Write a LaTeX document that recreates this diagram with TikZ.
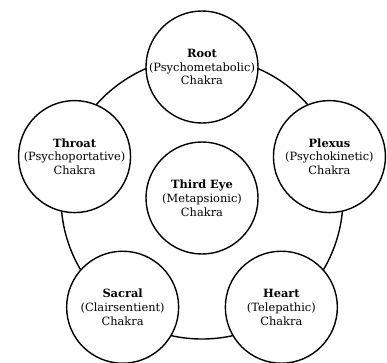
\documentclass[tikz,border=0pt]{standalone}
\usepackage{fontspec}
\setmainfont{DejaVu Serif}
\begin{document}
\begin{tikzpicture}[x=1pt,y=1pt,
  chakra/.style={circle,draw,line width=1.4pt,fill=white,minimum size=112pt,inner sep=0pt,align=center,font=\fontsize{11.4}{13.8}\selectfont},
  ring/.style={draw,line width=1.4pt}]
\useasboundingbox (-202,-164) rectangle (185,198);
\node[ring,circle,minimum size=282pt,inner sep=0pt] (big) at (0,0) {};
\node[chakra] (root) at (90:131) {\textbf{Root}\\(Psychometabolic)\\Chakra};
\node[chakra] (throat) at (162:134) {\textbf{Throat}\\(Psychoportative)\\Chakra};
\node[chakra] (plexus) at (18:134) {\textbf{Plexus}\\(Psychokinetic)\\Chakra};
\node[chakra] (sacral) at (234:135) {\textbf{Sacral}\\(Clairsentient)\\Chakra};
\node[chakra] (heart) at (306:135) {\textbf{Heart}\\(Telepathic)\\Chakra};
\node[chakra] (eye) at (0,0) {\textbf{Third Eye}\\(Metapsionic)\\Chakra};
\end{tikzpicture}
\end{document}
